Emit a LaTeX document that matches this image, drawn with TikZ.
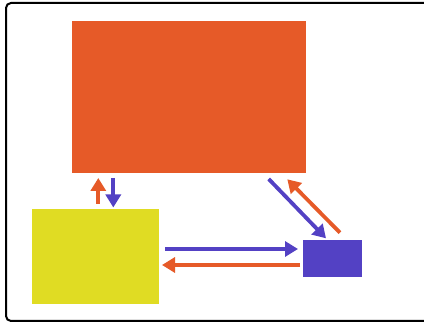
\documentclass[tikz,border=0pt]{standalone}
\usetikzlibrary{arrows.meta}
\definecolor{cOr}{HTML}{E65A28}
\definecolor{cYe}{HTML}{E0DC23}
\definecolor{cBl}{HTML}{5341C4}
\begin{document}
\begin{tikzpicture}[x=1pt,y=-1pt,
  box/.style={draw=none,inner sep=0pt,outer sep=0pt,anchor=north west},
  arr/.style={line width=3.8pt,-{Triangle[length=13pt,width=15pt]}},
  oarr/.style={arr,cOr},
  barr/.style={arr,cBl}]
\useasboundingbox (0,0) rectangle (424,323);
\clip (0,0) rectangle (424,323);
\fill[white] (0,0) rectangle (424,323);
\draw[line width=2pt,rounded corners=5pt] (6,3) rectangle (440,321);
\node[box,fill=cOr,minimum width=234.5pt,minimum height=152.5pt] (big) at (71.5,20.7) {};
\node[box,fill=cYe,minimum width=126.7pt,minimum height=95pt] (yel) at (32.3,209.3) {};
\node[box,fill=cBl,minimum width=58.7pt,minimum height=37.3pt] (blu) at (303.3,240) {};
% left pair
\coordinate (a1s) at (98.3,204);  \coordinate (a1e) at (98.3,178);
\coordinate (a2s) at (113.3,178); \coordinate (a2e) at (113.3,207.5);
\draw[oarr] (a1s) -- (a1e);
\draw[barr] (a2s) -- (a2e);
% horizontal pair
\coordinate (h1s) at (165,249);   \coordinate (h1e) at (298,249);
\coordinate (h2s) at (300,265);   \coordinate (h2e) at (162,265);
\draw[barr] (h1s) -- (h1e);
\draw[oarr] (h2s) -- (h2e);
% diagonal pair
\coordinate (d1s) at (268.7,179); \coordinate (d1e) at (326,238.3);
\coordinate (d2s) at (340,232.7); \coordinate (d2e) at (287.3,179.3);
\draw[barr] (d1s) -- (d1e);
\draw[oarr] (d2s) -- (d2e);
\end{tikzpicture}
\end{document}
